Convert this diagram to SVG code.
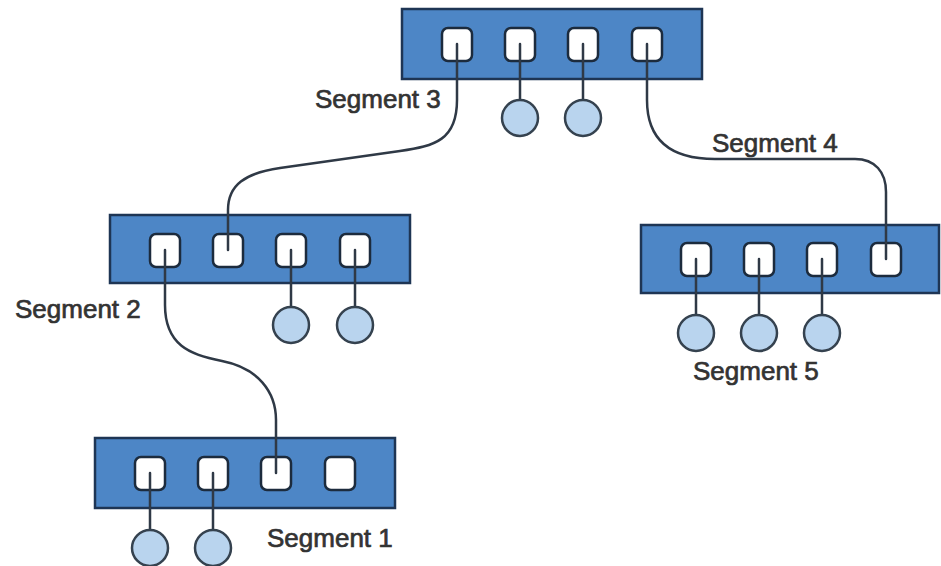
<svg xmlns="http://www.w3.org/2000/svg" width="941" height="566" viewBox="0 0 941 566">
  <style>
    .hub { fill: #4d86c6; stroke: #1e3554; stroke-width: 2.5; }
    .port { fill: #ffffff; stroke: #1c2b3d; stroke-width: 2.5; }
    .cable { fill: none; stroke: #2f3946; stroke-width: 2.5; stroke-linecap: round; }
    .station { fill: #b9d4ee; stroke: #35424f; stroke-width: 2.5; }
    .label { font-family: "Liberation Sans", Arial, sans-serif; font-size: 26px; fill: #333333; stroke: #333333; stroke-width: 0.7; }
  </style>
  <rect width="941" height="566" fill="#ffffff"/>

  <!-- Hub 3 (top) -->
  <g id="hub-top">
    <rect class="hub" x="402" y="9" width="300" height="70"/>
    <rect class="port" x="442" y="28" width="30" height="33" rx="6"/>
    <rect class="port" x="505" y="28" width="30" height="33" rx="6"/>
    <rect class="port" x="568" y="28" width="30" height="33" rx="6"/>
    <rect class="port" x="632" y="28" width="30" height="33" rx="6"/>
  </g>

  <!-- Hub 2 (middle left) -->
  <g id="hub-middle">
    <rect class="hub" x="110" y="215" width="300" height="68"/>
    <rect class="port" x="150" y="234" width="30" height="33" rx="6"/>
    <rect class="port" x="213" y="234" width="30" height="33" rx="6"/>
    <rect class="port" x="276" y="234" width="30" height="33" rx="6"/>
    <rect class="port" x="340" y="234" width="30" height="33" rx="6"/>
  </g>

  <!-- Hub 5 (right) -->
  <g id="hub-right">
    <rect class="hub" x="641" y="225" width="298" height="68"/>
    <rect class="port" x="681" y="243" width="30" height="33" rx="6"/>
    <rect class="port" x="744" y="243" width="30" height="33" rx="6"/>
    <rect class="port" x="807" y="243" width="30" height="33" rx="6"/>
    <rect class="port" x="871" y="243" width="30" height="33" rx="6"/>
  </g>

  <!-- Hub 1 (bottom) -->
  <g id="hub-bottom">
    <rect class="hub" x="95" y="438" width="300" height="70"/>
    <rect class="port" x="135" y="457" width="30" height="33" rx="6"/>
    <rect class="port" x="198" y="457" width="30" height="33" rx="6"/>
    <rect class="port" x="261" y="457" width="30" height="33" rx="6"/>
    <rect class="port" x="325" y="457" width="30" height="33" rx="6"/>
  </g>

  <!-- Cables: hub-to-hub segments and station drops -->
  <g id="connectors">
    <path class="cable" d="M457,44 V100 C457,140 435,146 400,151 L280,168 C245,173 228,185 228,210 V250"/>
    <path class="cable" d="M647,44 V100 C647,140 670,159 715,159 H855 C875,159 886,172 886,192 V259"/>
    <path class="cable" d="M165,250 V305 C165,345 190,355 222,361 C258,368 276,392 276,420 V473"/>
    <path class="cable" d="M520,44 V105"/>
    <path class="cable" d="M583,44 V105"/>
    <path class="cable" d="M291,250 V312"/>
    <path class="cable" d="M355,250 V312"/>
    <path class="cable" d="M696,259 V320"/>
    <path class="cable" d="M759,259 V320"/>
    <path class="cable" d="M822,259 V320"/>
    <path class="cable" d="M150,473 V535"/>
    <path class="cable" d="M213,473 V535"/>
  </g>

  <!-- Stations -->
  <g id="station-t1"><circle class="station" cx="520" cy="118" r="18"/></g>
  <g id="station-t2"><circle class="station" cx="583" cy="118" r="18"/></g>
  <g id="station-m1"><circle class="station" cx="291" cy="325" r="18"/></g>
  <g id="station-m2"><circle class="station" cx="355" cy="325" r="18"/></g>
  <g id="station-r1"><circle class="station" cx="696" cy="333" r="18"/></g>
  <g id="station-r2"><circle class="station" cx="759" cy="333" r="18"/></g>
  <g id="station-r3"><circle class="station" cx="822" cy="333" r="18"/></g>
  <g id="station-b1"><circle class="station" cx="150" cy="548" r="18"/></g>
  <g id="station-b2"><circle class="station" cx="213" cy="548" r="18"/></g>

  <!-- Segment labels -->
  <g id="labels">
    <text class="label" x="315" y="108">Segment 3</text>
    <text class="label" x="712" y="152">Segment 4</text>
    <text class="label" x="15" y="318">Segment 2</text>
    <text class="label" x="693" y="380">Segment 5</text>
    <text class="label" x="267" y="547">Segment 1</text>
  </g>
</svg>
